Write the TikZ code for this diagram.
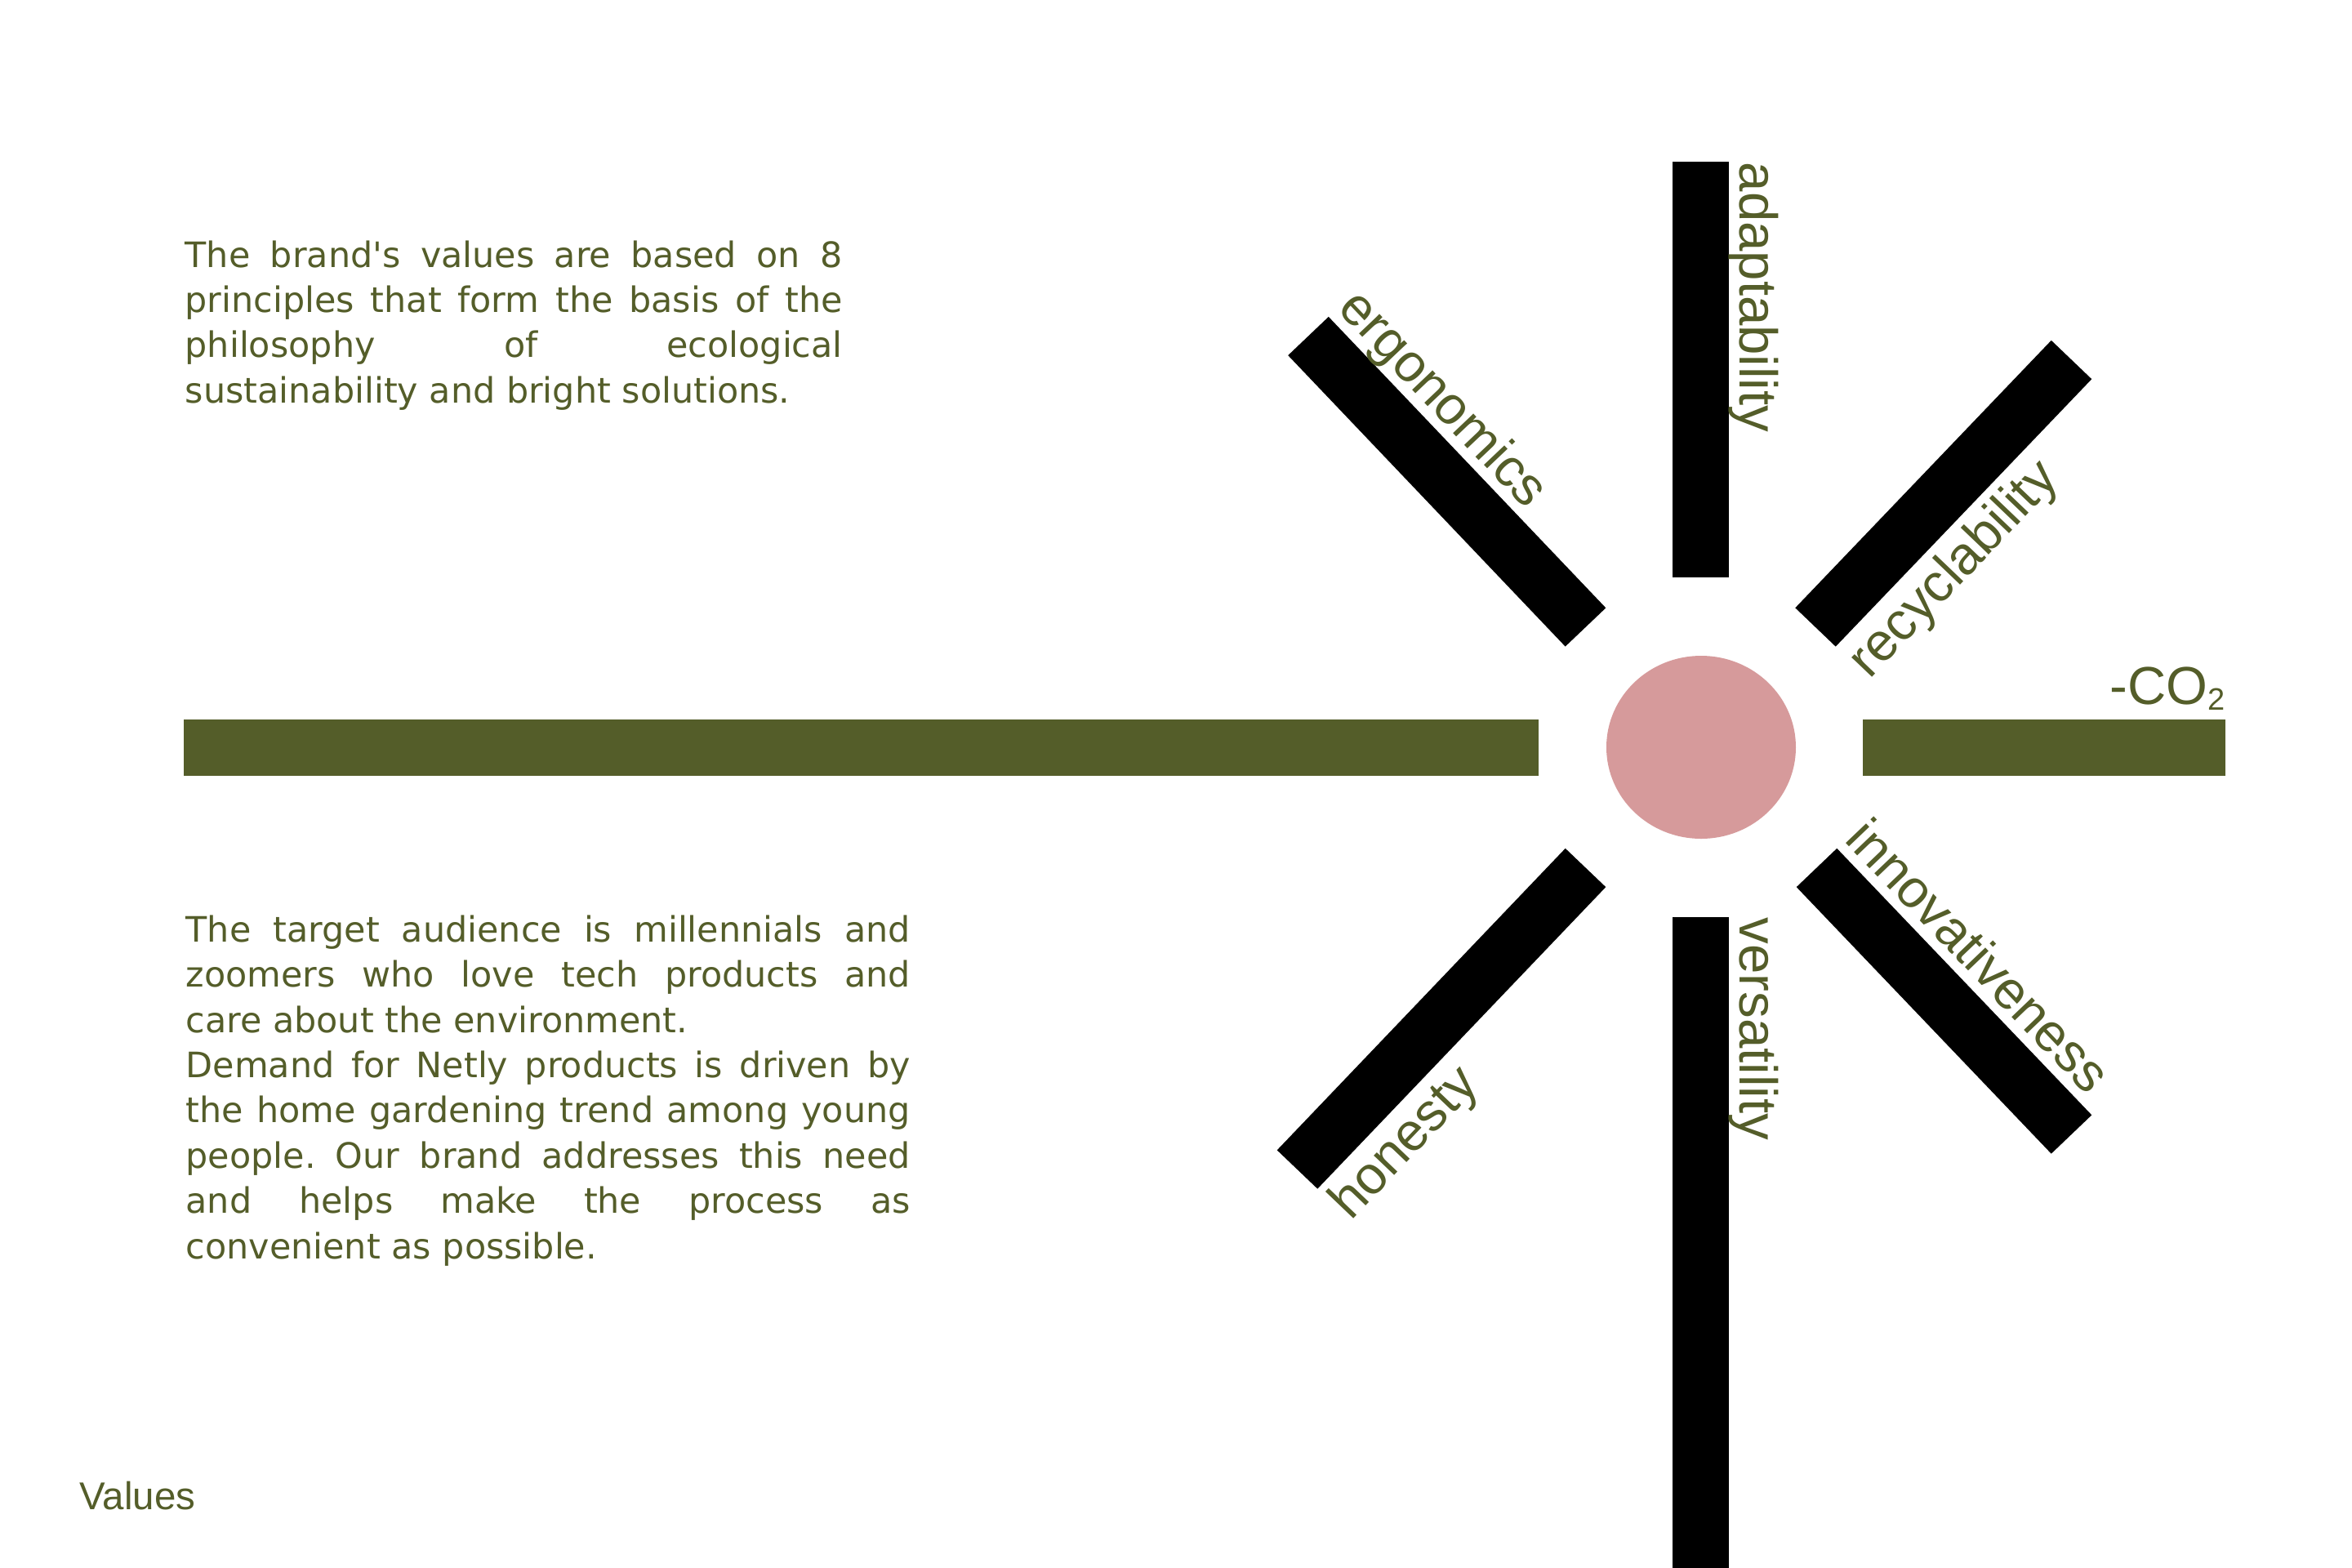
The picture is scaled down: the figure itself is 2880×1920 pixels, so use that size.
\documentclass[tikz,border=0pt]{standalone}
\usepackage{fontspec}
\setmainfont{DejaVu Sans}
\newfontfamily\lblfont{Liberation Sans}
\usetikzlibrary{shapes.geometric}
\definecolor{netgreen}{RGB}{84,93,41}
\definecolor{netpink}{RGB}{214,154,155}
\frenchspacing

\begin{document}
\begin{tikzpicture}[x=0.1mm,y=-0.1mm,
   bar/.style={draw=black,line width=6.85mm},
   band/.style={draw=netgreen,line width=6.9mm},
   hub/.style={ellipse,fill=netpink,inner sep=0pt,minimum width=23.2mm,minimum height=22.4mm},
   lbl/.style={inner sep=0pt,anchor=base west,text=netgreen,font=\lblfont\fontsize{18.6pt}{22pt}\selectfont},
   txt/.style={inner sep=0pt,anchor=base west,align=justify,text=netgreen,font=\fontsize{12.2pt}{15.79pt}\selectfont}]
   \useasboundingbox[fill=white] (0,0) rectangle (2880,1920);
   \node[hub] (c) at (2083,915) {};
   % ends of the eight bars
   \coordinate (n_in) at (2082.5,707);    \coordinate (n_out) at (2082.5,198);
   \coordinate (s_in) at (2082.5,1123);   \coordinate (s_out) at (2082.5,1920);
   \coordinate (nw_in) at (1941.5,768);   \coordinate (nw_out) at (1602,411.5);
   \coordinate (ne_in) at (2223,768);     \coordinate (ne_out) at (2536.5,440.5);
   \coordinate (sw_in) at (1941.5,1062.5); \coordinate (sw_out) at (1588.5,1432);
   \coordinate (se_in) at (2224.5,1062.5); \coordinate (se_out) at (2536.5,1389);
   \coordinate (w_in) at (1884,915);      \coordinate (w_out) at (225,915);
   \coordinate (e_in) at (2281,915);      \coordinate (e_out) at (2725,915);
   \path[bar]
    (n_in) edge (n_out)
    (s_in) edge (s_out)
    (nw_in) edge (nw_out)
    (ne_in) edge (ne_out)
    (sw_in) edge (sw_out)
    (se_in) edge (se_out);
   \path[band]
    (w_in) edge (w_out)
    (e_in) edge (e_out);
   % labels along the bars
   \node[lbl,rotate=-90] (l_adapt) at (2130,198) {adaptability};
   \node[lbl,rotate=-90] (l_vers) at (2130,1123) {versatility};
   \node[lbl,rotate=-46.5] (l_ergo) at (1636,379) {ergonomics};
   \node[lbl,rotate=46.3] (l_recy) at (2289,833) {recyclability};
   \node[lbl,rotate=-46.3] (l_inno) at (2257,1029) {innovativeness};
   \node[lbl,rotate=46.3] (l_hone) at (1654,1496) {honesty};
   \node[lbl,anchor=base east] (l_co2) at (2725,862) {-CO\raisebox{-0.7mm}{\fontsize{10.8pt}{12pt}\selectfont 2}};
   % text blocks
   \node[txt,text width=80.5mm] (t_top) at (226,327) {The brand\textquotesingle s values are based on 8\linebreak principles that form the basis of the\linebreak philosophy of ecological\linebreak sustainability and bright solutions.};
   \node[txt,text width=88.7mm] (t_bottom) at (227,1153) {The target audience is millennials and\linebreak zoomers who love tech products and\linebreak care about the environment.\par Demand for Netly products is driven by\linebreak the home gardening trend among young\linebreak people. Our brand addresses this need\linebreak and helps make the process as\linebreak convenient as possible.};
   \node[lbl,font=\lblfont\fontsize{13.5pt}{16pt}\selectfont] (t_title) at (97,1848) {Values};
\end{tikzpicture}
\end{document}
